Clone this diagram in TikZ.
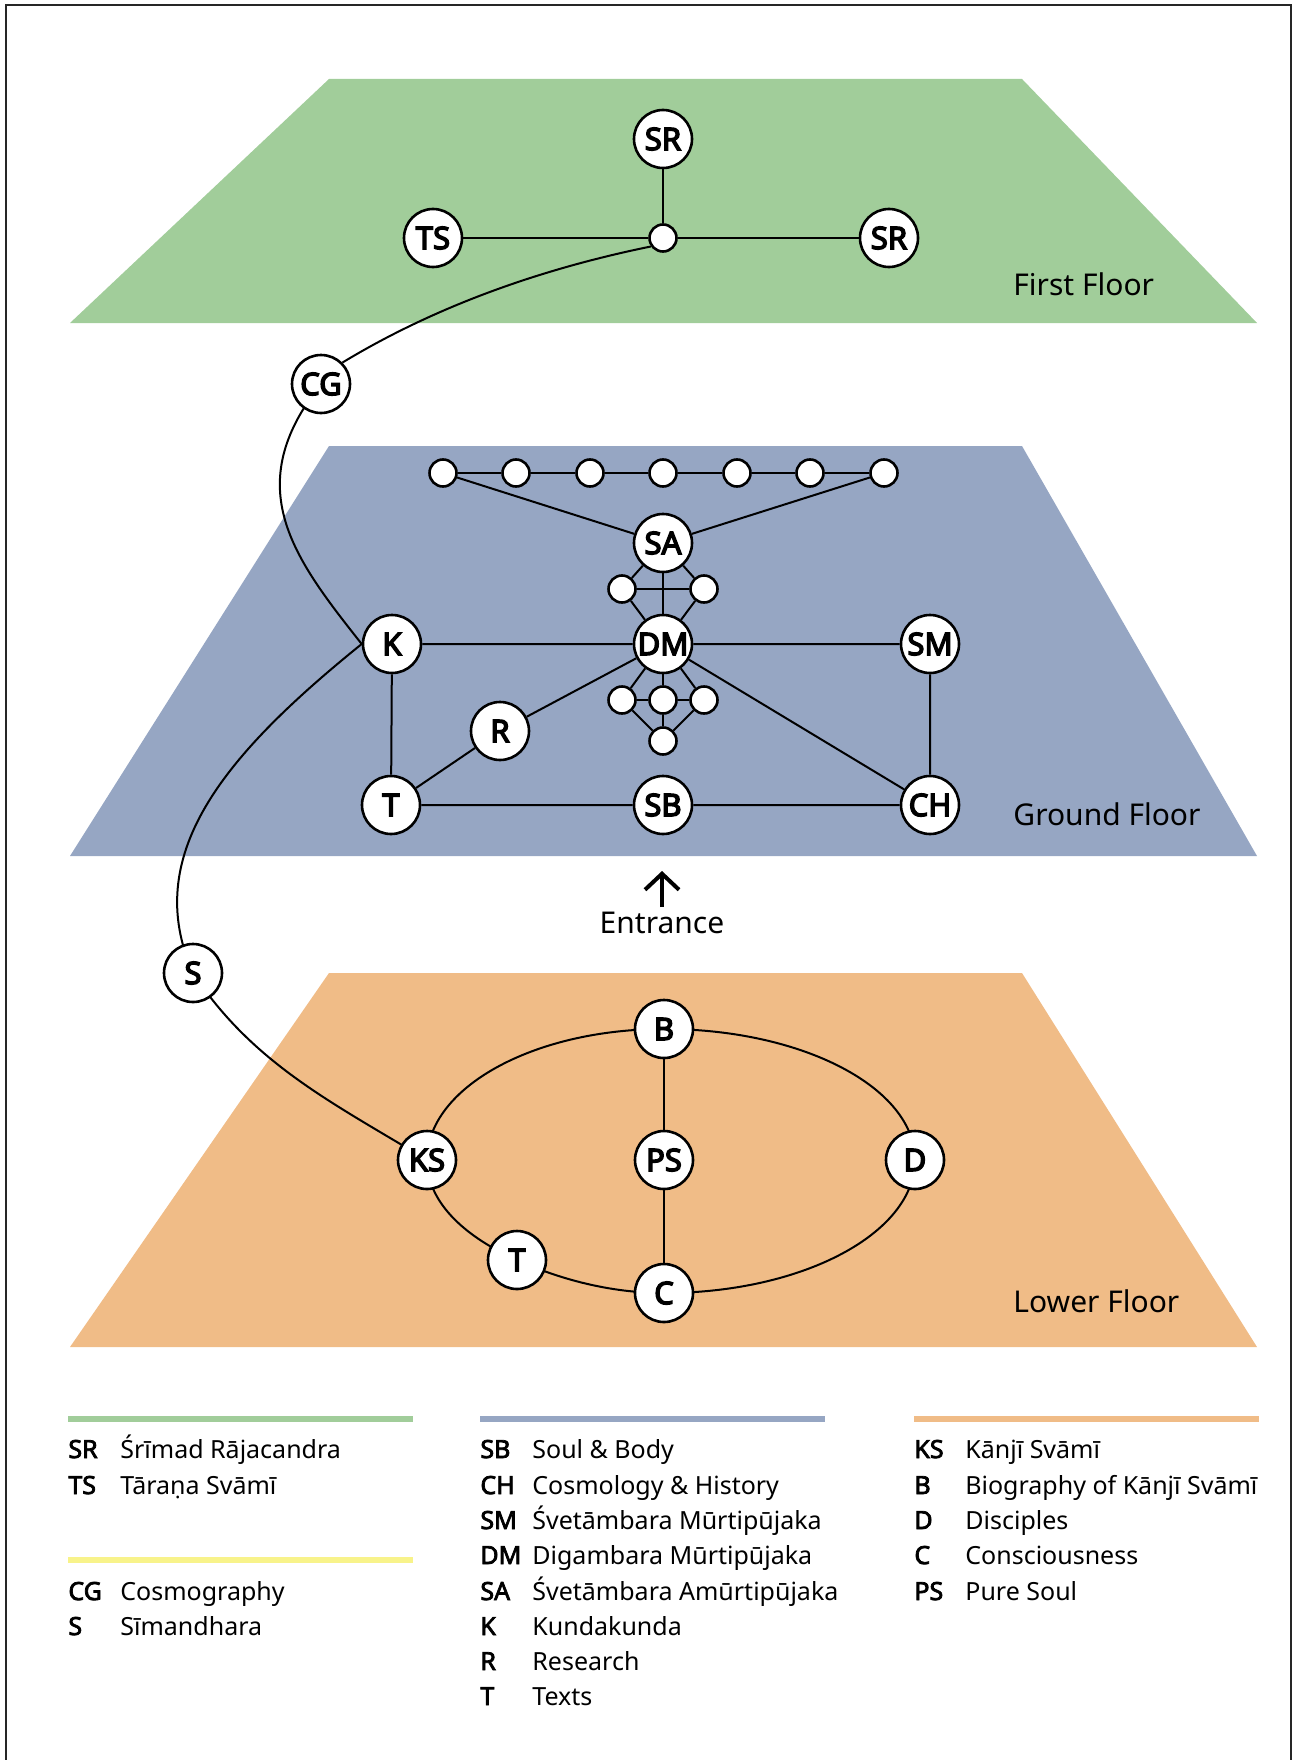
\documentclass[tikz,border=0pt]{standalone}
\usepackage{fontspec}
\setmainfont{Noto Sans}[AutoFakeBold=3]
\newfontfamily\roomfont{Noto Sans}[AutoFakeBold=4.5]
\usetikzlibrary{arrows.meta}

\definecolor{firstgreen}{RGB}{161,205,154}
\definecolor{groundblue}{RGB}{150,166,195}
\definecolor{lowerorange}{RGB}{240,188,135}
\definecolor{pathyellow}{RGB}{248,243,138}

\pgfdeclarelayer{floors}
\pgfdeclarelayer{edges}
\pgfsetlayers{floors,edges,main}

\tikzset{
  room/.style={circle, draw, fill=white, line width=1.3pt, minimum size=29pt, inner sep=0pt,
    font=\roomfont\bfseries\fontsize{15.5}{17}\selectfont},
  dot/.style={circle, draw, fill=white, line width=1.3pt, minimum size=13.5pt, inner sep=0pt},
  link/.style={line width=1pt},
  floorname/.style={anchor=west, inner sep=0pt, font=\fontsize{15}{18}\selectfont},
  key/.style={anchor=base west, inner sep=0pt, font=\bfseries\fontsize{12.5}{15}\selectfont},
  keytext/.style={anchor=base west, inner sep=0pt, font=\fontsize{12.5}{15}\selectfont},
}

\begin{document}
\begin{tikzpicture}[x=0.5pt, y=-0.5pt]
    \useasboundingbox (0,0) rectangle (1293,1760);

    % frame
    \draw[line width=1.2pt, black!85] (6,1760) -- (6,5) -- (1291,5) -- (1291,1760);

    % floors
    \begin{pgfonlayer}{floors}
    \fill[firstgreen] (329,79) -- (1022,79) -- (1257,323) -- (70,323) -- cycle;
    \fill[groundblue] (329,446) -- (1022,446) -- (1257,856) -- (70,856) -- cycle;
    \fill[lowerorange] (329,973) -- (1022,973) -- (1257,1347) -- (70,1347) -- cycle;
    \end{pgfonlayer}

    % first floor
    \node[room] (sr1) at (663,139) {SR};
    \node[dot] (hub) at (663,238) {};
    \node[room] (ts) at (433,238) {TS};
    \node[room] (sr2) at (889,238) {SR};
    \node[floorname] (first) at (1013,284) {First Floor};

    \node[room] (cg) at (321,384) {CG};

    % ground floor
    \node[dot] (top1) at (443,473) {};
    \node[dot] (top2) at (516,473) {};
    \node[dot] (top3) at (590,473) {};
    \node[dot] (top4) at (663,473) {};
    \node[dot] (top5) at (737,473) {};
    \node[dot] (top6) at (810,473) {};
    \node[dot] (top7) at (884,473) {};
    \node[room] (sa) at (663,543) {SA};
    \node[dot] (upl) at (622,589) {};
    \node[dot] (upr) at (704,589) {};
    \node[room] (dm) at (663,644) {DM};
    \node[room] (k) at (392,644) {K};
    \node[room] (sm) at (930,644) {SM};
    \node[dot] (lowl) at (622,700) {};
    \node[dot] (lowc) at (663,700) {};
    \node[dot] (lowr) at (704,700) {};
    \node[dot] (lowb) at (663,741) {};
    \node[room] (r) at (500,731) {R};
    \node[room] (tg) at (391,805) {T};
    \node[room] (sb) at (663,805) {SB};
    \node[room] (ch) at (930,805) {CH};
    \node[floorname] (ground) at (1013,814) {Ground Floor};

    % entrance
    \node[inner sep=0pt, font=\fontsize{15}{18}\selectfont] (entrance) at (662,923) {Entrance};
    \coordinate (entrfoot) at (662,907);
    \coordinate (entrtip) at (662,871);
    \draw[line width=2pt, -{Straight Barb[length=8pt,width=17pt]}] (entrfoot) -- (entrtip);

    \node[room] (s) at (193,973) {S};

    % lower floor
    \node[room] (b) at (664,1029) {B};
    \node[room] (ks) at (427,1160) {KS};
    \node[room] (ps) at (664,1160) {PS};
    \node[room] (d) at (915,1160) {D};
    \node[room] (tl) at (517,1260) {T};
    \node[room] (c) at (664,1293) {C};
    \node[floorname] (lower) at (1013,1301) {Lower Floor};

    \begin{pgfonlayer}{edges}
    \draw[link] (sr1) -- (hub);
    \draw[link] (ts) -- (hub) -- (sr2);

    \draw[link] (top1) -- (top2) -- (top3) -- (top4) -- (top5) -- (top6) -- (top7);
    \draw[link] (top1) -- (sa) -- (top7);
    \draw[link] (sa) -- (dm);
    \draw[link] (upl) -- (upr);
    \draw[link] (sa) -- (upl) -- (dm) -- (upr) -- (sa);
    \draw[link] (dm) -- (lowl);
    \draw[link] (dm) -- (lowc);
    \draw[link] (dm) -- (lowr);
    \draw[link] (lowl) -- (lowc) -- (lowr);
    \draw[link] (lowl) -- (lowb) -- (lowr);
    \draw[link] (lowc) -- (lowb);
    \draw[link] (k) -- (dm) -- (sm) -- (ch) -- (sb) -- (tg) -- (k);
    \draw[link] (dm) -- (r) -- (tg);
    \draw[link] (dm) -- (ch);

    \draw[link] (b) -- (ps) -- (c);
    \draw[link] (ks.center) .. controls +(0,-72) and +(-131,0) .. (b.center);
    \draw[link] (b.center) .. controls +(139,0) and +(0,-72) .. (d.center);
    \draw[link] (d.center) .. controls +(0,73) and +(139,0) .. (c.center);
    \draw[link] (c.center) .. controls +(-54,0) and +(42,19) .. (tl.center);
    \draw[link] (tl.center) .. controls +(-56,-25) and +(0,40) .. (ks.center);

    % the way down
    \draw[link] (hub.215) .. controls +(-108,22) and +(94,-57) .. (cg.45);
    \draw[link] (cg.center) .. controls +(-82,103) and +(-68,-86) .. (k.west);
    \draw[link] (k.west) .. controls +(-140,113) and +(-52,-117) .. (s.center);
    \draw[link] (s.center) .. controls +(60,91) and +(-94,-57) .. (ks.center);
    \end{pgfonlayer}

    % legend
    \fill[firstgreen] (68,1416) rectangle (413,1422);
    \fill[groundblue] (480,1416) rectangle (825,1422);
    \fill[lowerorange] (914,1416) rectangle (1259,1422);
    \fill[pathyellow] (68,1557) rectangle (413,1563);

    \node[key] (keySR) at (68,1458) {SR};
    \node[keytext] (txtSR) at (120,1458) {Śrīmad Rājacandra};
    \node[key] (keyTS) at (68,1494) {TS};
    \node[keytext] (txtTS) at (120,1494) {Tāraṇa Svāmī};
    \node[key] (keyCG) at (68,1600) {CG};
    \node[keytext] (txtCG) at (120,1600) {Cosmography};
    \node[key] (keyS) at (68,1635) {S};
    \node[keytext] (txtS) at (120,1635) {Sīmandhara};

    \node[key] (keySB) at (480,1458) {SB};
    \node[keytext] (txtSB) at (532,1458) {Soul \& Body};
    \node[key] (keyCH) at (480,1494) {CH};
    \node[keytext] (txtCH) at (532,1494) {Cosmology \& History};
    \node[key] (keySM) at (480,1529) {SM};
    \node[keytext] (txtSM) at (532,1529) {Śvetāmbara Mūrtipūjaka};
    \node[key] (keyDM) at (480,1564) {DM};
    \node[keytext] (txtDM) at (532,1564) {Digambara Mūrtipūjaka};
    \node[key] (keySA) at (480,1600) {SA};
    \node[keytext] (txtSA) at (532,1600) {Śvetāmbara Amūrtipūjaka};
    \node[key] (keyK) at (480,1635) {K};
    \node[keytext] (txtK) at (532,1635) {Kundakunda};
    \node[key] (keyR) at (480,1670) {R};
    \node[keytext] (txtR) at (532,1670) {Research};
    \node[key] (keyT) at (480,1705) {T};
    \node[keytext] (txtT) at (532,1705) {Texts};

    \node[key] (keyKS) at (914,1458) {KS};
    \node[keytext] (txtKS) at (965,1458) {Kānjī Svāmī};
    \node[key] (keyB) at (914,1494) {B};
    \node[keytext] (txtB) at (965,1494) {Biography of Kānjī Svāmī};
    \node[key] (keyD) at (914,1529) {D};
    \node[keytext] (txtD) at (965,1529) {Disciples};
    \node[key] (keyC) at (914,1564) {C};
    \node[keytext] (txtC) at (965,1564) {Consciousness};
    \node[key] (keyPS) at (914,1600) {PS};
    \node[keytext] (txtPS) at (965,1600) {Pure Soul};

\end{tikzpicture}
\end{document}
